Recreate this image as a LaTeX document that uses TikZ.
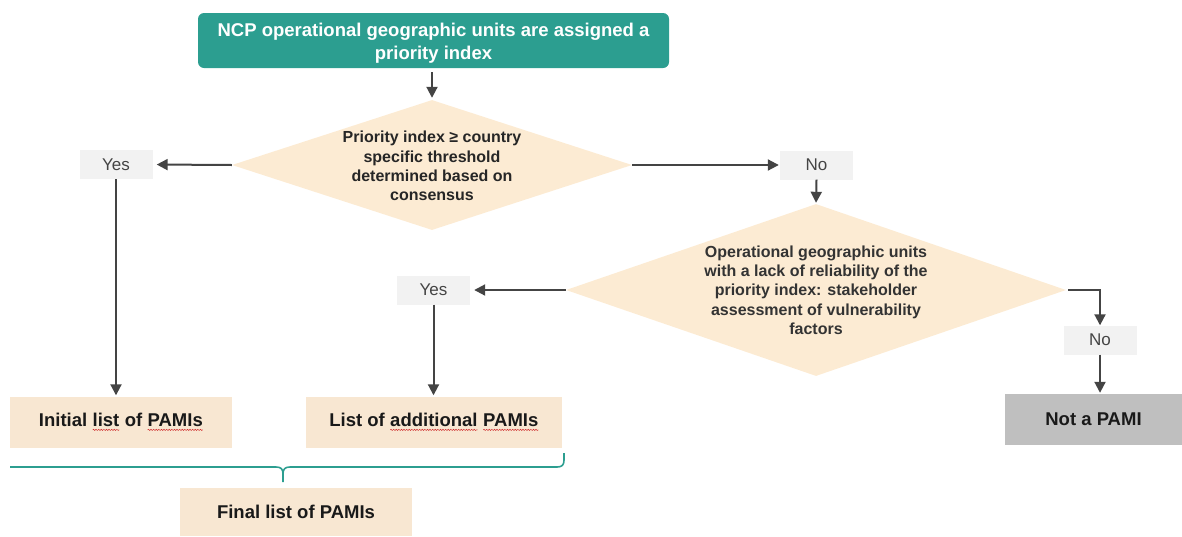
\documentclass[tikz,border=0pt]{standalone}
\usepackage{fontspec}
\setmainfont{Liberation Sans}
\usetikzlibrary{arrows.meta,shapes.geometric,decorations.pathmorphing}

\definecolor{teal1}{HTML}{2C9E90}
\definecolor{peach}{HTML}{FCEBD3}
\definecolor{sand}{HTML}{F8E7D2}
\definecolor{lightgray1}{HTML}{F2F2F2}
\definecolor{midgray}{HTML}{BFBFBF}
\definecolor{ink}{HTML}{444444}
\definecolor{spell}{HTML}{D03030}

% wavy red underline for flagged words
\newcommand\spellmark[1]{\tikz[baseline=(sw.base)]{%
  \node[inner sep=0pt, outer sep=0pt, minimum width=0pt, minimum height=0pt,
        fill=none, draw=none] (sw) {#1};
  \draw[spell, line width=0.5pt, decorate, decoration={snake, amplitude=0.6pt, segment length=2.6pt}]
    ([yshift=-3.2pt]sw.base west) -- ([yshift=-3.2pt]sw.base east);}}

\tikzset{
  flow/.style={draw=ink, line width=2pt, -{Triangle[length=11pt,width=11pt]}},
  topbox/.style={fill=teal1, rounded corners=6pt, text=white, font=\fontsize{18.5}{23.5}\selectfont\bfseries,
    minimum width=471pt, minimum height=55pt, align=center, inner sep=0pt},
  toptext/.style={text=white, font=\fontsize{18.5}{23.5}\selectfont\bfseries, align=center, inner sep=0pt},
  dia/.style={diamond, fill=peach, inner sep=0pt, aspect=1},
  diatext/.style={align=center, text=black!85, font=\fontsize{16}{19.3}\selectfont\bfseries},
  answer/.style={fill=lightgray1, text=ink, font=\fontsize{17}{20}\selectfont,
    minimum width=73pt, minimum height=29pt, inner sep=0pt},
  listbox/.style={fill=sand, text=black!90, font=\fontsize{18.5}{22}\selectfont\bfseries,
    minimum height=51pt, inner sep=0pt},
}

\begin{document}
\begin{tikzpicture}[x=1pt, y=-1pt]
  \useasboundingbox (0,0) rectangle (1182,536);

  % header
  \node[topbox] (top) at (433.5,40.5) {};
  \node[toptext] (topt) at (433.5,43)
    {NCP operational geographic units are assigned a\\priority index};

  % first decision
  \node[dia, minimum width=400pt, minimum height=130pt] (d1) at (432,165) {};
  \node[diatext] (d1t) at (432,166)
    {Priority index ≥ country\\specific threshold\\determined based on\\consensus};

  \node[answer] (yes1) at (116,164.5) {Yes};
  \node[answer] (no1) at (816.5,165) {No};

  % second decision
  \node[dia, minimum width=500pt, minimum height=172pt] (d2) at (816,290) {};
  \node[diatext, text=black!80] (d2t) at (816,290)
    {Operational geographic units\\with a lack of reliability of the\\priority index: stakeholder\\assessment of vulnerability\\factors};

  \node[answer] (yes2) at (433.5,290) {Yes};
  \node[answer] (no2) at (1100,340) {No};

  % outcomes
  \node[listbox, minimum width=222pt] (init) at (121,422) {Initial \spellmark{list} of \spellmark{PAMIs}};
  \node[listbox, minimum width=256pt] (addl) at (434,422) {List of \spellmark{additional} \spellmark{PAMIs}};
  \node[listbox, fill=midgray, minimum width=177pt] (notp) at (1093.5,419.5) {Not a PAMI};
  \node[listbox, minimum width=232pt, minimum height=48pt] (final) at (296,512) {Final list of PAMIs};

  % connectors
  \draw[flow, shorten <=4pt, shorten >=2pt] (top.south -| d1.north) -- (d1.north);
  \draw[flow, shorten >=4pt] (d1.west) -- (yes1.east);
  \draw[flow, shorten >=1pt] (d1.east) -- (no1.west);
  \draw[flow, shorten >=1pt] (no1.south) -- (d2.north);
  \draw[flow, shorten >=1pt] (yes1.south) -- (yes1.south |- init.north);
  \draw[flow, shorten >=4pt] (d2.west) -- (yes2.east);
  \draw[flow, shorten >=1pt] (yes2.south) -- (yes2.south |- addl.north);
  \draw[flow, shorten <=2pt] (d2.east) -| (no2.north);
  \draw[flow, shorten >=1pt] (no2.south) -- (no2.south |- notp.north);

  % brace grouping the two lists
  \coordinate (bl) at (10,467);
  \coordinate (bm) at (283,482);
  \coordinate (br) at (564,453);
  \draw[teal1, line width=1.6pt, line join=round]
    (bl) -- (276,467) .. controls (281,467) and (283,469) .. (283,474) -- (bm);
  \draw[teal1, line width=1.6pt, line join=round]
    (283,474) .. controls (283,469) and (285,467) .. (290,467) -- (557,467)
    .. controls (562,467) and (564,465) .. (564,460) -- (br);
\end{tikzpicture}
\end{document}
